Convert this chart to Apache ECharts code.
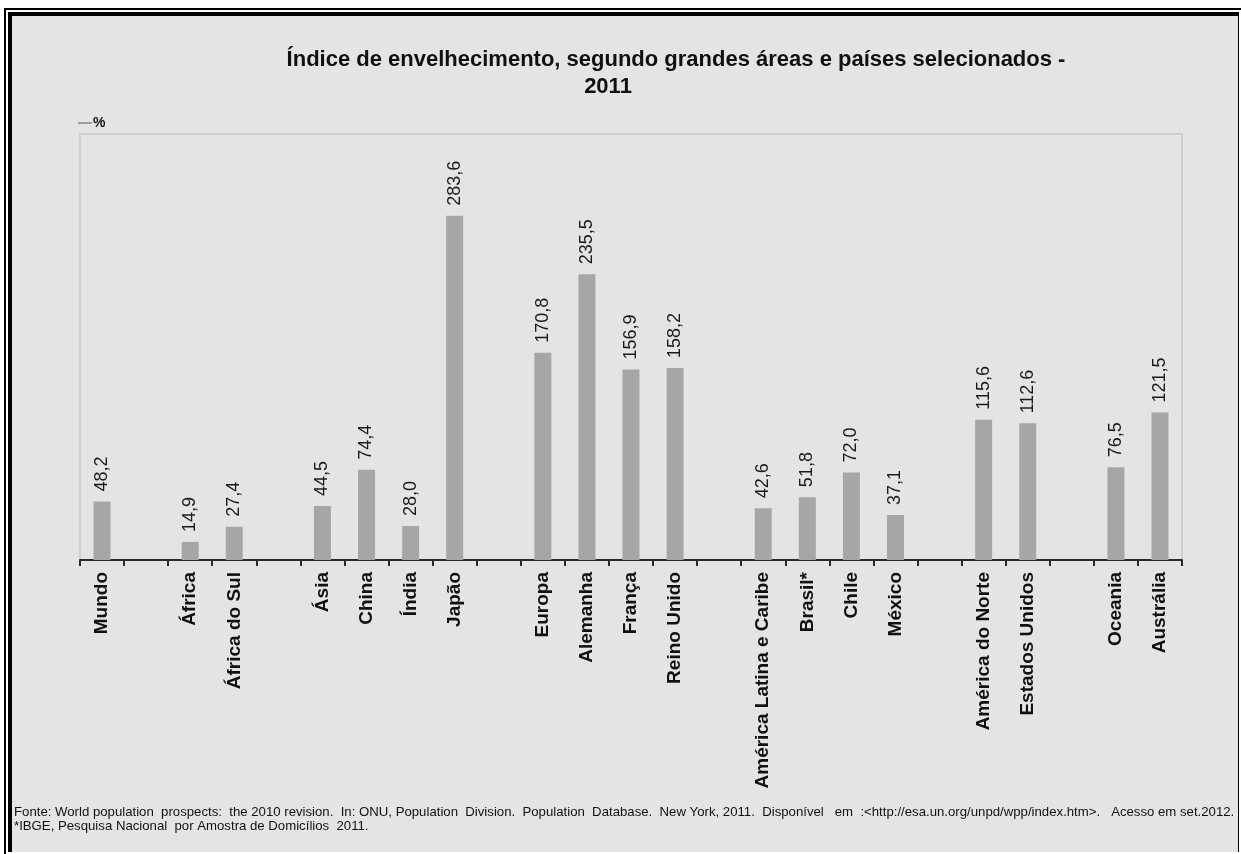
<!DOCTYPE html>
<html>
<head>
<meta charset="utf-8">
<script src="https://cdn.jsdelivr.net/npm/echarts@6/dist/echarts.min.js"></script>
<style>
html,body{margin:0;padding:0;background:#fff;}
#c{width:1241px;height:854px;}
</style>
</head>
<body>
<div id="c"></div>
<script>
const categories = ['Mundo','','África','África do Sul','','Ásia','China','Índia','Japão','','Europa','Alemanha','França','Reino Unido','','América Latina e Caribe','Brasil*','Chile','México','','América do Norte','Estados Unidos','','Oceania','Austrália'];
const values = [48.2,null,14.9,27.4,null,44.5,74.4,28.0,283.6,null,170.8,235.5,156.9,158.2,null,42.6,51.8,72.0,37.1,null,115.6,112.6,null,76.5,121.5];
const titleLines = ['Índice de envelhecimento, segundo grandes áreas e países selecionados -','2011'];
const yAxisName = '%';
const footnotes = [
  'Fonte: World population  prospects:  the 2010 revision.  In: ONU, Population  Division.  Population  Database.  New York, 2011.  Disponível   em  :<http://esa.un.org/unpd/wpp/index.htm>.   Acesso em set.2012.',
  '*IBGE, Pesquisa Nacional  por Amostra de Domicílios  2011.'
];

const chart = echarts.init(document.getElementById('c'), null, {renderer:'canvas'});
const FONT = '"Liberation Sans", Arial, sans-serif';
chart.setOption({
  backgroundColor: '#ffffff',
  animation: false,
  grid: {left: 80, right: 59, top: 134, bottom: 294, show: true, borderColor: '#cdcdcd', borderWidth: 2, backgroundColor: 'transparent'},
  xAxis: {
    type: 'category', data: categories, boundaryGap: true,
    axisLine: {lineStyle: {color: '#2a2a2a', width: 2}},
    axisTick: {show: true, interval: 0, length: 6, lineStyle: {color: '#2a2a2a', width: 2}},
    axisLabel: {interval: 0, rotate: 90, margin: 12, fontFamily: FONT, fontWeight: 'bold', fontSize: 19, color: '#111'}
  },
  yAxis: {
    type: 'value', min: 0, max: 351,
    axisLine: {show: true, lineStyle: {color: '#cdcdcd', width: 2}},
    axisTick: {show: false}, axisLabel: {show: false}, splitLine: {show: false}
  },
  series: [{
    type: 'bar', data: values, barWidth: 17,
    itemStyle: {color: '#a6a6a6'},
    label: {show: true, position: 'top', rotate: 90, distance: 10, align: 'left', verticalAlign: 'middle',
      fontFamily: FONT, fontSize: 18, color: '#1a1a1a',
      formatter: p => p.value == null ? '' : p.value.toFixed(1).replace('.', ',')}
  }],
  graphic: [
    {type: 'rect', shape: {x: 0, y: 0, width: 1241, height: 854}, style: {fill: '#ffffff'}, z: -10, silent: true},
    {type: 'rect', shape: {x: 4, y: 8, width: 1237, height: 846}, style: {fill: '#000'}, z: -9, silent: true},
    {type: 'rect', shape: {x: 6, y: 10, width: 1235, height: 844}, style: {fill: '#fff'}, z: -8, silent: true},
    {type: 'rect', shape: {x: 8, y: 12, width: 1231, height: 840}, style: {fill: '#000'}, z: -7, silent: true},
    {type: 'rect', shape: {x: 12, y: 16, width: 1226, height: 836}, style: {fill: '#e4e4e4'}, z: -6, silent: true},
    {type: 'text', x: 676, y: 60, style: {text: titleLines[0], font: 'bold 22px ' + FONT, fill: '#111', textAlign: 'center', textVerticalAlign: 'middle'}},
    {type: 'text', x: 608, y: 87, style: {text: titleLines[1], font: 'bold 22px ' + FONT, fill: '#111', textAlign: 'center', textVerticalAlign: 'middle'}},
    {type: 'text', x: 93, y: 123, style: {text: yAxisName, font: 'bold 14px ' + FONT, fill: '#111', textAlign: 'left', textVerticalAlign: 'middle'}},
    {type: 'line', shape: {x1: 78, y1: 123, x2: 92, y2: 123}, style: {stroke: '#555', lineWidth: 1}},
    {type: 'text', x: 14, y: 812, style: {text: footnotes[0], font: '13.2px ' + FONT, fill: '#111', textAlign: 'left', textVerticalAlign: 'middle'}},
    {type: 'text', x: 14, y: 826, style: {text: footnotes[1], font: '13.2px ' + FONT, fill: '#111', textAlign: 'left', textVerticalAlign: 'middle'}}
  ]
});
</script>
</body>
</html>
